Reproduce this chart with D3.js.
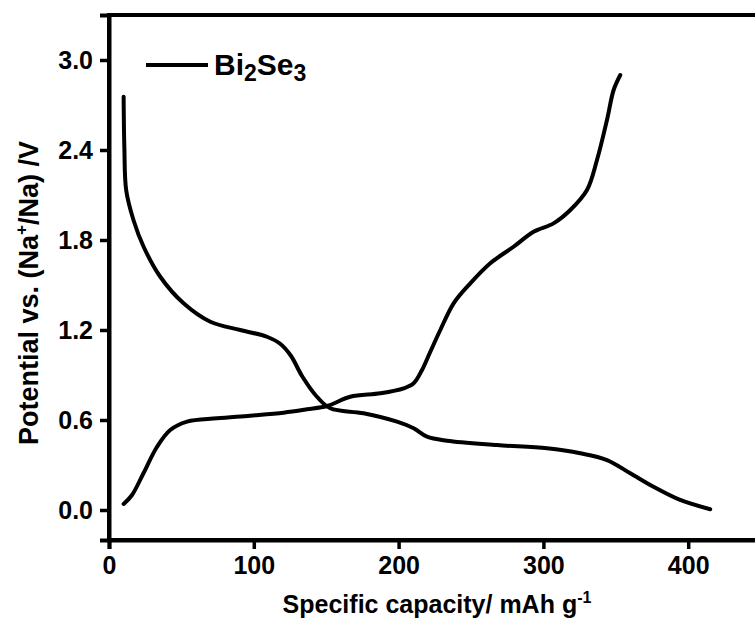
<!DOCTYPE html>
<html>
<head>
<meta charset="utf-8">
<script src="https://cdn.jsdelivr.net/npm/d3@7"></script>
<style>
  html, body { margin: 0; padding: 0; background: #fff; }
  svg { display: block; }
  text { font-family: "Liberation Sans", Arial, sans-serif; font-weight: bold; fill: #000; }
</style>
</head>
<body>
<svg id="chart" width="755" height="631"></svg>
<script>
// Discharge curve: [capacity mAh/g, potential V]
const dischargeCapacity = [10.1, 10.6, 11.9, 17.0, 23.9, 35.4, 51.5, 70.0, 90.7, 109.1, 118.0, 125.5, 133.5, 143.6, 152.8, 175.8, 198.9, 210.4, 219.6, 233.4, 268, 302.5, 325.5, 343.9, 360, 376, 394.4, 415.2];
const dischargePotential = [2.755, 2.42, 2.13, 1.93, 1.755, 1.555, 1.378, 1.255, 1.20, 1.155, 1.11, 1.03, 0.89, 0.755, 0.678, 0.645, 0.589, 0.545, 0.489, 0.462, 0.433, 0.411, 0.378, 0.333, 0.245, 0.155, 0.067, 0.005];
// Charge curve
const chargeCapacity = [10.1, 15.9, 23.8, 33.1, 42.3, 53.9, 74.6, 97.6, 120.6, 136.7, 150.6, 166.6, 187.4, 203.5, 210.4, 216.0, 221.9, 228.8, 238, 249.5, 263.3, 279.4, 293.2, 307, 318.6, 330.1, 337, 343.9, 348.5, 353.1];
const chargePotential = [0.04, 0.10, 0.245, 0.42, 0.533, 0.589, 0.611, 0.629, 0.649, 0.671, 0.693, 0.755, 0.778, 0.811, 0.845, 0.93, 1.055, 1.2, 1.378, 1.511, 1.645, 1.755, 1.855, 1.911, 2.0, 2.133, 2.333, 2.6, 2.8, 2.9];
const xTicks = [0, 100, 200, 300, 400];
const yTicks = [0.0, 0.6, 1.2, 1.8, 2.4, 3.0];

const svg = d3.select("#chart");
const mLeft = 109, mRight = 760.6, mTop = 15, mBottom = 540;
const x = d3.scaleLinear().domain([0, 450]).range([mLeft, mRight]);
const y = d3.scaleLinear().domain([-0.2, 3.3]).range([mBottom, mTop]);

// frame
svg.append("rect").attr("x", mLeft).attr("y", mTop).attr("width", mRight - mLeft).attr("height", mBottom - mTop)
  .attr("fill", "none").attr("stroke", "#000").attr("stroke-width", 4);

const xAxis = svg.append("g").attr("transform", `translate(0,${mBottom})`)
  .call(d3.axisBottom(x).tickValues(xTicks).tickFormat(d3.format("d")).tickSize(9).tickPadding(7));
const yAxis = svg.append("g").attr("transform", `translate(${mLeft},0)`)
  .call(d3.axisLeft(y).tickValues(yTicks).tickFormat(d3.format(".1f")).tickSize(9).tickPadding(7));
[xAxis, yAxis].forEach(g => {
  g.select(".domain").attr("stroke-width", 4);
  g.selectAll(".tick line").attr("stroke-width", 3.5);
  g.selectAll(".tick text").style("font-size", "25px").style("font-family", '"Liberation Sans", Arial, sans-serif').style("font-weight", "bold");
});

const line = d3.line().x(d => x(d[0])).y(d => y(d[1])).curve(d3.curveCatmullRom.alpha(0.5));
const discharge = dischargeCapacity.map((c, i) => [c, dischargePotential[i]]);
const charge = chargeCapacity.map((c, i) => [c, chargePotential[i]]);
[discharge, charge].forEach(data => {
  svg.append("path").datum(data).attr("d", line).attr("fill", "none")
    .attr("stroke", "#000").attr("stroke-width", 4).attr("stroke-linecap", "round").attr("stroke-linejoin", "round");
});

// legend
svg.append("line").attr("x1", 146).attr("x2", 208).attr("y1", 65).attr("y2", 65)
  .attr("stroke", "#000").attr("stroke-width", 4);
const lt = svg.append("text").attr("x", 214).attr("y", 75).style("font-size", "30px");
lt.append("tspan").text("Bi");
lt.append("tspan").text("2").style("font-size", "23px").attr("dy", 6);
lt.append("tspan").text("Se").attr("dy", -6);
lt.append("tspan").text("3").style("font-size", "23px").attr("dy", 6);

// axis titles
const xt = svg.append("text").attr("x", 437).attr("y", 613).attr("text-anchor", "middle").style("font-size", "25px");
xt.append("tspan").text("Specific capacity/ mAh g");
xt.append("tspan").text("-1").style("font-size", "16px").attr("dy", -10);

const yt = svg.append("text").attr("transform", `translate(38,${293}) rotate(-90)`).attr("text-anchor", "middle").style("font-size", "27px");
yt.append("tspan").text("Potential vs. (Na");
yt.append("tspan").text("+").style("font-size", "17px").attr("dy", -11);
yt.append("tspan").text("/Na) /V").attr("dy", 11);
</script>
</body>
</html>
